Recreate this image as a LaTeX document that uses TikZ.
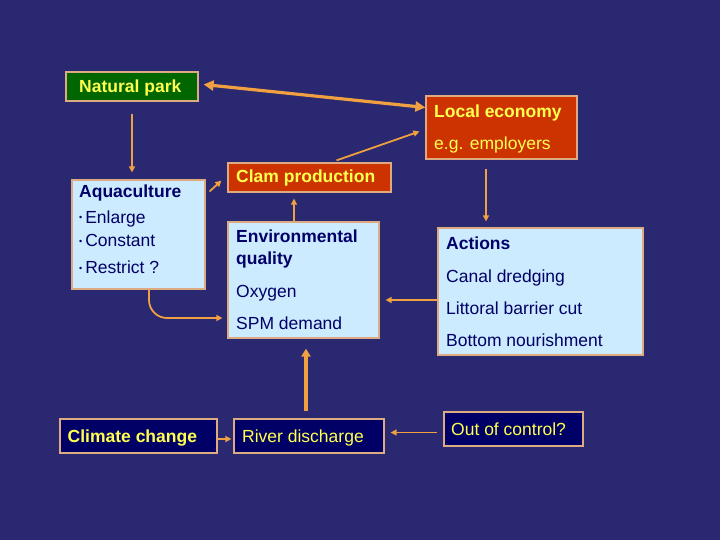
\documentclass[tikz,border=0pt]{standalone}
\usepackage{fontspec}
\setmainfont{Liberation Sans}
\usepackage{xcolor}
\usepackage{tikz}
\usetikzlibrary{arrows.meta, positioning}

\definecolor{bgblue}{RGB}{42,40,112}
\definecolor{parkgreen}{RGB}{0,102,0}
\definecolor{econred}{RGB}{204,51,0}
\definecolor{paleblue}{RGB}{204,235,255}
\definecolor{deepnavy}{RGB}{0,0,102}
\definecolor{txtyellow}{RGB}{255,255,80}
\definecolor{linkorange}{RGB}{240,160,64}
\definecolor{edgetan}{RGB}{222,170,130}

\newcommand{\dotitem}{\raisebox{2pt}{\small•}\,}

\begin{document}
\begin{tikzpicture}[
	x=1pt, y=-1pt,
	every node/.style={font=\fontsize{17.5}{20}\selectfont},
	panel/.style={draw=edgetan, line width=1.2pt, rectangle, inner sep=0pt},
	greenbox/.style={panel, fill=parkgreen},
	redbox/.style={panel, fill=econred},
	palebox/.style={panel, fill=paleblue},
	navybox/.style={panel, fill=deepnavy},
	textrow/.style={anchor=base west, inner sep=0pt},
	yline/.style={textrow, text=txtyellow},
	bline/.style={textrow, text=deepnavy},
	link/.style={draw=linkorange, line width=1.8pt, -{Triangle[length=6pt, width=6pt]}},
	biglink/.style={draw=linkorange, line width=3.2pt},
	]
	
	% Background
	\fill[bgblue] (0,0) rectangle (720,540);
	
	% Boxes
	\node[greenbox, minimum width=132pt, minimum height=29pt] (park) at (132,86.5) {};
	\node[redbox, minimum width=151pt, minimum height=63pt] (econ) at (501.5,127.5) {};
	\node[redbox, minimum width=163pt, minimum height=29pt] (clam) at (309.5,177.5) {};
	\node[palebox, minimum width=133pt, minimum height=109pt] (aqua) at (138.5,234.5) {};
	\node[palebox, minimum width=151pt, minimum height=116pt] (envq) at (303.5,280) {};
	\node[palebox, minimum width=205pt, minimum height=127pt] (acts) at (540.5,291.5) {};
	\node[navybox, minimum width=157pt, minimum height=34pt] (climate) at (138.5,436) {};
	\node[navybox, minimum width=150pt, minimum height=34pt] (river) at (309,436) {};
	\node[navybox, minimum width=139pt, minimum height=34pt] (ooc) at (513.5,429) {};
	
	% Texts in the boxes
	\node[yline] (parkt) at (79,93) {\textbf{Natural park}};
	\node[yline] (econt) at (434,118) {\textbf{Local economy}};
	\node[yline] (econs) at (434,150) {e.g. employers};
	\node[yline] (clamt) at (236,183) {\textbf{Clam production}};
	\node[bline] (aquat) at (79,197) {\textbf{Aquaculture}};
	\node[bline] (aqua1) at (79,223) {\dotitem Enlarge};
	\node[bline] (aqua2) at (79,247) {\dotitem Constant};
	\node[bline] (aqua3) at (79,273) {\dotitem Restrict ?};
	\node[bline] (envt1) at (236,243) {\textbf{Environmental}};
	\node[bline] (envt2) at (236,264) {\textbf{quality}};
	\node[bline] (env1) at (236,297) {Oxygen};
	\node[bline] (env2) at (236,329) {SPM demand};
	\node[bline] (actt) at (446,249) {\textbf{Actions}};
	\node[bline] (act1) at (446,282) {Canal dredging};
	\node[bline] (act2) at (446,314) {Littoral barrier cut};
	\node[bline] (act3) at (446,346) {Bottom nourishment};
	\node[yline] (climatet) at (67.5,442) {\textbf{Climate change}};
	\node[yline] (rivert) at (242,442) {River discharge};
	\node[yline] (ooct) at (451,435.5) {Out of control?};
	
	% Links between the boxes
	\draw[biglink, {Triangle[length=10pt,width=10pt]}-{Triangle[length=10pt,width=10pt]}] ([xshift=5pt,yshift=2pt]park.east) -- ([yshift=20pt]econ.west);
	\draw[link, shorten <=12pt, shorten >=7pt] (park.south) -- (park.south |- aqua.north);
	\draw[link] ([xshift=27pt,yshift=2pt]clam.north) -- ([xshift=-6pt,yshift=-4pt]econ.west);
	\draw[link] ([xshift=4pt,yshift=-12pt]aqua.north east) -- ([xshift=-6pt,yshift=12pt]clam.south west);
	\draw[link, shorten >=6pt] ([xshift=-9.5pt]envq.north) -- ([xshift=-9.5pt]envq.north |- clam.south);
	\draw[link, shorten <=9pt, shorten >=6pt] ([xshift=-15.5pt]econ.south) -- ([xshift=-15.5pt]econ.south |- acts.north);
	\draw[link, shorten >=6pt] ([yshift=-8.5pt]acts.west) -- ([yshift=-8.5pt]acts.west -| envq.east);
	\draw[link, rounded corners=18pt, shorten >=5pt] ([xshift=10.5pt]aqua.south) |- ([yshift=-38pt]envq.west);
	\draw[biglink, -{Triangle[length=8pt,width=9pt]}, shorten <=7pt, shorten >=10pt] ([xshift=-3pt]river.north) -- ([xshift=-3pt]river.north |- envq.south);
	\draw[link, shorten >=2pt] ([yshift=-3pt]climate.east) -- ([yshift=-3pt]climate.east -| river.west);
	\draw[link, shorten <=6pt, shorten >=6pt] ([yshift=-3.5pt]ooc.west) -- ([yshift=-3.5pt]ooc.west -| river.east);
	
\end{tikzpicture}
\end{document}
